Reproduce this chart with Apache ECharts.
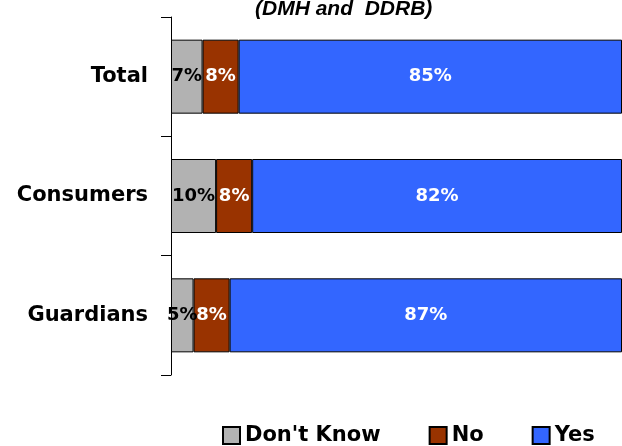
<!DOCTYPE html>
<html><head><meta charset="utf-8">
<script src="https://cdn.jsdelivr.net/npm/echarts@6/dist/echarts.min.js"></script>
<style>html,body{margin:0;padding:0;background:#fff}#c{width:622px;height:446px}</style>
</head><body><div id="c"></div>
<script>
const categories = ['Total', 'Consumers', 'Guardians'];
const dontKnow = [7, 10, 5];
const no = [8, 8, 8];
const yes = [85, 82, 87];
const seriesNames = ["Don't Know", 'No', 'Yes'];
const colors = ['#B2B2B2', '#993300', '#3366FF'];
const labelColors = ['#000', '#fff', '#fff'];
const FONT = '"Comic Sans MS", "DejaVu Sans", sans-serif';

const chart = echarts.init(document.getElementById('c'), null, {renderer: 'canvas'});
const dataSets = [dontKnow, no, yes];
chart.setOption({
  animation: false,
  title: {
    text: '(DMH and  DDRB)', left: 250, top: -6,
    textStyle: {fontFamily: 'Liberation Sans, Arial, sans-serif', fontStyle: 'italic', fontWeight: 'bold', fontSize: 21, color: '#000'}
  },
  grid: {left: 171, right: 0, top: 17, bottom: 71, containLabel: false},
  legend: {
    left: 217, top: 420, itemWidth: 17, itemHeight: 17, itemGap: 48,
    icon: 'rect',
    textStyle: {fontFamily: FONT, fontWeight: 'bold', fontSize: 21, color: '#000'},
    data: seriesNames
  },
  xAxis: {type: 'value', min: 0, max: 100, show: false},
  yAxis: {
    type: 'category', data: categories, inverse: true,
    axisLine: {show: true, lineStyle: {color: '#000', width: 1}},
    axisTick: {show: true, length: 10, lineStyle: {color: '#000'}},
    axisLabel: {margin: 23, fontFamily: FONT, fontWeight: 'bold', fontSize: 21, color: '#000'}
  },
  series: dataSets.map((d, i) => ({
    name: seriesNames[i], type: 'bar', stack: 'all', data: d,
    barWidth: 74,
    itemStyle: {color: colors[i], borderColor: '#000', borderWidth: 1},
    label: {show: true, position: 'inside', formatter: p => p.value + '%', color: labelColors[i],
      fontFamily: FONT, fontWeight: 'bold', fontSize: 18, textBorderWidth: 0}
  }))
});
</script></body></html>
